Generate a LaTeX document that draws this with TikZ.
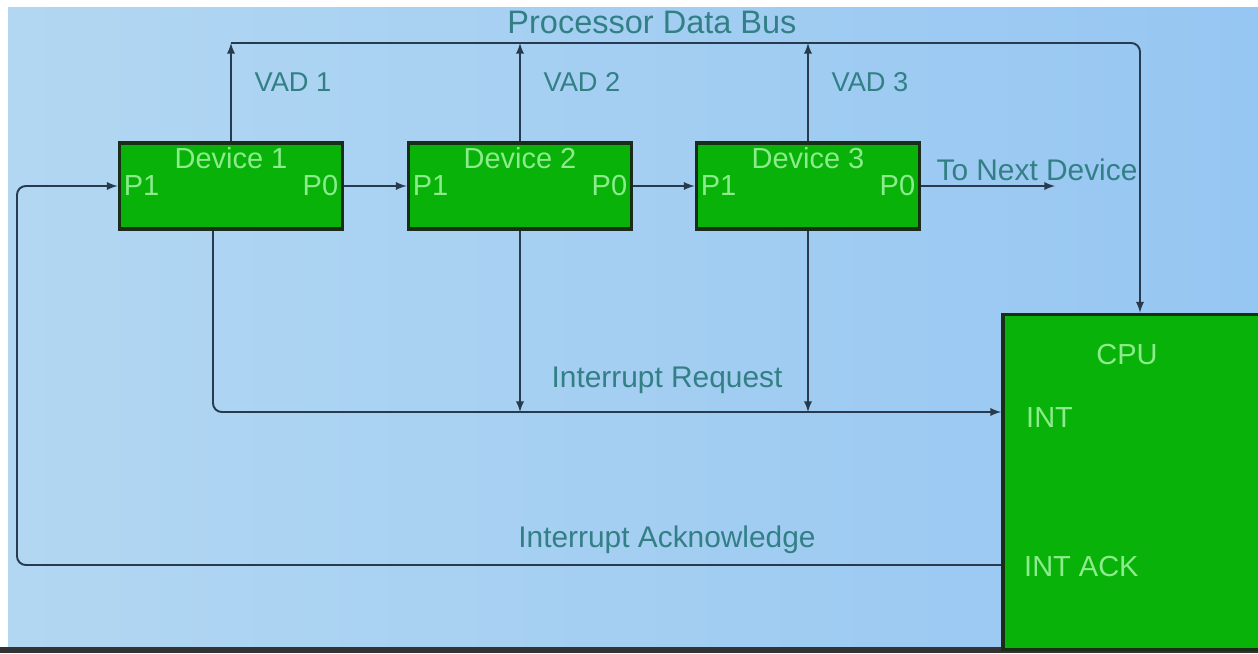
\documentclass[tikz,border=0pt]{standalone}
\usepackage{fontspec}
\setmainfont{Liberation Sans}
\usepackage{tikz}
\usetikzlibrary{positioning}
\usetikzlibrary{calc}
\definecolor{boxgreen}{RGB}{8,178,8}
\definecolor{boxedge}{RGB}{25,45,25}
\definecolor{boxtext}{RGB}{140,236,140}
\definecolor{wirecol}{RGB}{40,58,78}
\definecolor{labtext}{RGB}{50,128,134}
\definecolor{bgleft}{RGB}{178,215,242}
\definecolor{bgmid}{RGB}{198,230,249}
\definecolor{bgright}{RGB}{150,198,242}
\tikzset{every picture/.style={x=0.02cm,y=-0.02cm,line width=1.1pt}}

\begin{document}
\begin{tikzpicture}[dev/.style={rectangle, draw=boxedge, line width=2.2pt, fill=boxgreen, minimum width=4.46cm, minimum height=1.72cm, inner sep=0pt},
pin/.style={text=boxtext, font=\fontsize{16.5}{19}\selectfont, inner sep=3pt},
lab/.style={text=labtext, font=\fontsize{17}{20}\selectfont},
link/.style={draw=wirecol, line width=1.1pt}]
\useasboundingbox (0,0) rectangle (1258,653);
% slide background
\fill[white] (0,0) rectangle (1258,653);
\shade[left color=bgleft, middle color=bgmid, right color=bgright] (8,7) rectangle (1258,647);
\fill[black!80] (0,647) rectangle (1258,653);
% devices
\foreach \i/\x in {1/231,2/520,3/808} {
\node (dev\i) at (\x,186) [dev] {};
\node (name\i) [pin, anchor=north] at (dev\i.north) {Device \i};
\node (pa\i) [pin, anchor=west] at (dev\i.west) {P1};
\node (pb\i) [pin, anchor=east] at (dev\i.east) {P0};
}
\node (cpu) at (1140,482) [dev, minimum width=5.48cm, minimum height=6.7cm] {};
\node (cputxt) [pin] at (1127,355) {CPU};
\node (inttxt) [pin, anchor=west] at (1020,418) {INT};
\node (acktxt) [pin, anchor=west] at (1018,567) {INT ACK};
% data bus
\coordinate (busend) at (1140,43);
\draw[link,-latex,rounded corners=5pt] (dev1.north |- busend) -- (busend) -- (cpu.north);
\foreach \i in {1,2,3} {
\draw[link,-latex] (dev\i.north) -- (dev\i.north |- busend);
\node (vad\i) [lab, font=\fontsize{15.5}{18}\selectfont] at ($(dev\i.north)+(62,-59)$) {VAD \i};
}
% daisy chain
\draw[link,-latex] (dev1.east) -- (dev2.west);
\draw[link,-latex] (dev2.east) -- (dev3.west);
\coordinate (nxt) at (1055,186);
\draw[link,-latex] (dev3.east) -- (nxt);
% interrupt request
\coordinate (irq) at (213,412);
\draw[link,-latex,rounded corners=5pt] ($(dev1.south)+(-18,0)$) -- (irq) -- (cpu.west |- irq);
\foreach \i in {2,3} \draw[link,-latex] (dev\i.south) -- (dev\i.south |- irq);
% interrupt acknowledge
\coordinate (ack) at (17,565);
\draw[link,-latex,rounded corners=5pt] (cpu.west |- ack) -- (ack) |- (dev1.west);
% labels
\node (bus) [lab, font=\fontsize{18.5}{21}\selectfont] at (652,22) {Processor Data Bus};
\node (next) [lab] at (1037,170) {To Next Device};
\node (req) [lab] at (667,380) {Interrupt Request};
\node (ackt) [lab] at (667,540) {Interrupt Acknowledge};
\end{tikzpicture}
\end{document}
